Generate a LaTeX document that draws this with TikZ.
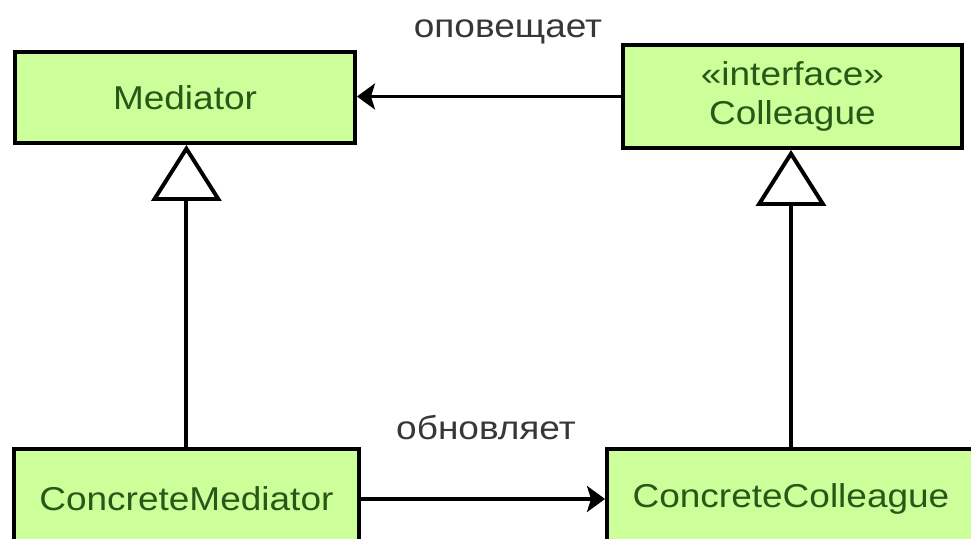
\documentclass[tikz,border=0pt]{standalone}
\usepackage{fontspec}
\setmainfont[FakeStretch=1.12]{Liberation Sans}
\usetikzlibrary{arrows.meta}
\definecolor{boxgreen}{RGB}{204,255,153}
\definecolor{textgreen}{RGB}{40,88,24}
\definecolor{labelgray}{RGB}{55,55,55}

\tikzset{
  classbox/.style={draw=black, line width=2.8pt, fill=boxgreen, text=textgreen,
    align=center, inner sep=0pt, font=\fontsize{23.5}{28}\selectfont},
  inherit/.style={line width=2.8pt, -{Triangle[open, fill=white, length=1.4cm, width=1.75cm]}},
  assoc/.style={line width=2.8pt, -{Stealth[length=0.45cm, width=0.65cm, inset=0.1cm]}},
  msg/.style={text=labelgray, font=\fontsize{23.5}{28}\selectfont}
}

\begin{document}
\begin{tikzpicture}
    % Cadre
    \clip (0,0) rectangle (24.275,13.45);
    \useasboundingbox (0,0) rectangle (24.275,13.45);

    % Classes du haut
    \node[classbox, minimum width=8.5cm, minimum height=2.275cm] (med) at (4.625,11.0125) {Mediator};
    \node[classbox, minimum width=8.475cm, minimum height=2.575cm] (col) at (19.81,11.0375) {«interface»\\Colleague};

    % Classes du bas
    \node[classbox, minimum width=8.625cm, minimum height=2.5cm] (cmed) at (4.66,0.975) {ConcreteMediator};
    \node[classbox, minimum width=9.2cm, minimum height=2.5cm] (ccol) at (19.775,0.975) {ConcreteColleague};

    % Héritage
    \draw[inherit] (cmed.north) -- (cmed.north |- med.south);
    \draw[inherit] (ccol.north) -- (ccol.north |- col.south);

    % Associations
    \draw[assoc] (col.west) -- (col.west -| med.east);
    \draw[assoc] (cmed.east) -- (ccol.west);

    % Libellés
    \node[msg] (notify) at (12.7,12.65) {оповещает};
    \node[msg] (update) at (12.15,2.75) {обновляет};
\end{tikzpicture}
\end{document}
